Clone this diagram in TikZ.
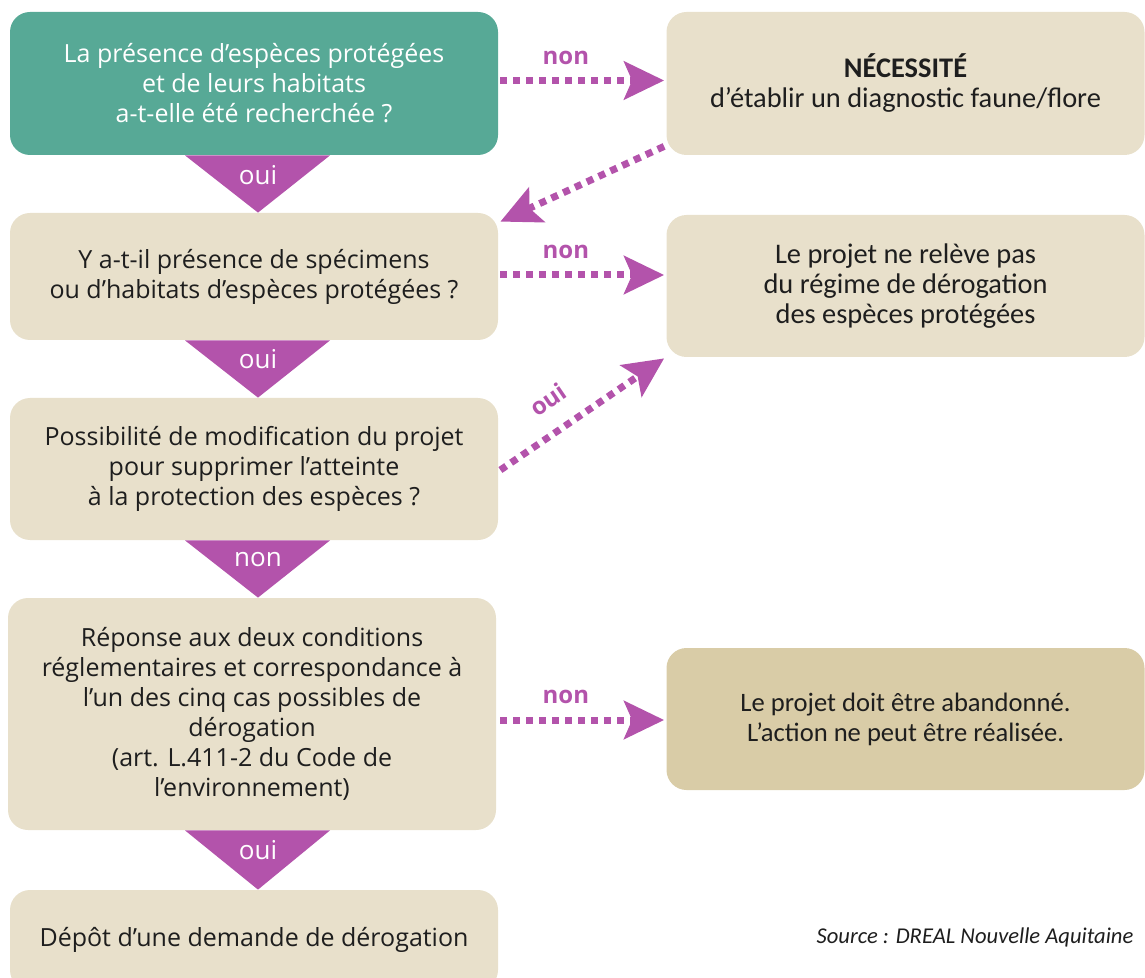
\documentclass[tikz,border=0pt]{standalone}
\usepackage{fontspec}
\setmainfont{Open Sans}
\newfontfamily\calibri{Carlito}
\usepackage{tikz}
\usetikzlibrary{calc, arrows.meta}

\definecolor{qgreen}{HTML}{57A996}
\definecolor{sand}{HTML}{E8E0CB}
\definecolor{darksand}{HTML}{D9CCA7}
\definecolor{mauve}{HTML}{B353AB}
\definecolor{ink}{HTML}{1E1E1E}

\begin{document}
\begin{tikzpicture}[x=0.5pt, y=-0.5pt,
    qbox/.style={rectangle, rounded corners=10pt, fill=sand, text=ink, align=center,
        inner sep=0pt, minimum width=244pt, font=\fontsize{12.5}{15}\selectfont},
    rbox/.style={rectangle, rounded corners=10pt, fill=sand, text=ink, align=center,
        inner sep=0pt, minimum width=239pt, font=\calibri\fontsize{14.2}{15}\selectfont},
    trilabel/.style={text=white, font=\fontsize{13}{14}\selectfont},
    lbl/.style={text=mauve, font=\bfseries\fontsize{12}{13}\selectfont},
    link/.style={mauve, line width=3.5pt, dash pattern=on 3.5pt off 3pt,
        -{Stealth[length=20pt, width=19pt, inset=4pt]}}]
    \useasboundingbox (0,0) rectangle (1145,978);

    \node (q1) [qbox, fill=qgreen, text=white, minimum height=71.5pt] at (254,83.5)
        {La présence d’espèces protégées\\ et de leurs habitats\\ a-t-elle été recherchée ?};
    \node (r1) [rbox, minimum height=71.5pt] at (905.5,83.5)
        {\textbf{NÉCESSITÉ}\\ d’établir un diagnostic faune/flore};
    \node (q2) [qbox, minimum height=63.5pt] at (254,276.5)
        {Y a-t-il présence de spécimens\\ ou d’habitats d’espèces protégées ?};
    \node (r2) [rbox, minimum height=71pt] at (905.5,286)
        {Le projet ne relève pas\\ du régime de dérogation\\ des espèces protégées};
    \node (q3) [qbox, minimum height=71pt] at (254,469)
        {Possibilité de modification du projet\\ pour supprimer l’atteinte\\ à la protection des espèces ?};
    \node (q4) [qbox, minimum height=116pt] at (252,714)
        {Réponse aux deux conditions\\ réglementaires et correspondance à\\ l’un des cinq cas possibles de\\ dérogation\\ (art. L.411-2 du Code de\\ l’environnement)};
    \node (r4) [rbox, fill=darksand, minimum height=71pt, font=\calibri\fontsize{13.3}{15}\selectfont] at (905.5,719)
        {Le projet doit être abandonné.\\ L’action ne peut être réalisée.};
    \node (q5) [qbox, minimum height=50pt] at (254,940)
        {Dépôt d’une demande de dérogation};

    \node (src) [text=ink, font=\calibri\itshape\fontsize{11.3}{13}\selectfont] at (975,937)
        {Source : DREAL Nouvelle Aquitaine};

    \fill [mauve] ($(q1.south)+(-69,0)$) -- ($(q1.south)+(76,0)$) -- ($(q2.north)+(4,0)$) -- cycle;
    \fill [mauve] ($(q2.south)+(-69,0)$) -- ($(q2.south)+(76,0)$) -- ($(q3.north)+(4,0)$) -- cycle;
    \fill [mauve] ($(q3.south)+(-69,0)$) -- ($(q3.south)+(76,0)$) -- ($(q4.north)+(6,0)$) -- cycle;
    \fill [mauve] ($(q4.south)+(-67,0)$) -- ($(q4.south)+(78,0)$) -- ($(q5.north)+(4,0)$) -- cycle;
    \node (t1) [trilabel] at ($(q1.south)+(4,20)$) {oui};
    \node (t2) [trilabel] at ($(q2.south)+(4,19)$) {oui};
    \node (t3) [trilabel] at ($(q3.south)+(4,19)$) {non};
    \node (t4) [trilabel] at ($(q4.south)+(6,20)$) {oui};

    \draw [link] ($(q1.east)+(2,-3)$) -- node [lbl, pos=0.4, above=3pt] {non} ($(r1.west)+(-2,-3)$);
    \draw [link] ($(r1.south west)+(-2,-9)$) -- ($(q2.north east)+(2,9)$);
    \draw [link] ($(q2.east)+(2,-1.5)$) -- node [lbl, pos=0.4, above=3pt] {non} ($(q2.east -| r2.west)+(-2,-1.5)$);
    \draw [link] ($(q3.east)+(2,1)$) -- node [lbl, pos=0.4, above=6pt, sloped] {oui} ($(r2.south west)+(-2,1)$);
    \draw [link] ($(q4.east |- r4.west)+(4,1)$) -- node [lbl, pos=0.4, above=3pt] {non} ($(r4.west)+(-2,1)$);
\end{tikzpicture}
\end{document}
